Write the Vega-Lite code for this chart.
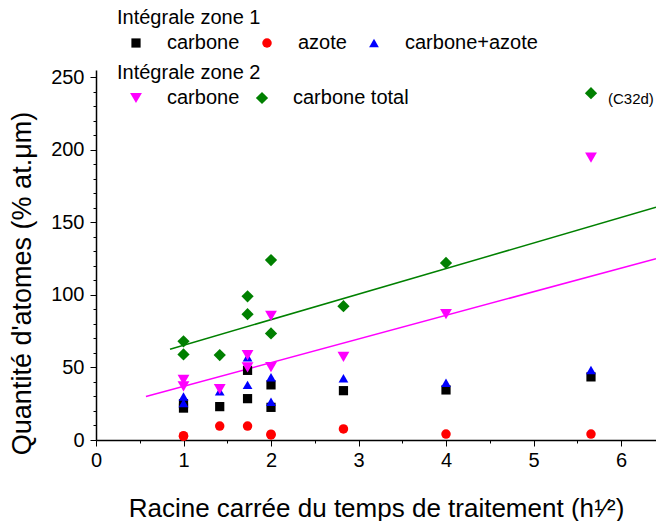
{
  "$schema": "https://vega.github.io/schema/vega-lite/v6.json",
  "width": 560,
  "height": 370,
  "autosize": {"type": "none"},
  "padding": {"left": 96, "top": 70, "right": 0, "bottom": 81},
  "background": "white",
  "config": {
    "view": {"stroke": null},
    "font": "Arial, Liberation Sans, Helvetica, sans-serif",
    "axis": {"labelFont": "Arial, Liberation Sans, Helvetica, sans-serif", "titleFont": "Arial, Liberation Sans, Helvetica, sans-serif", "domainColor": "black", "tickColor": "black", "labelColor": "black", "titleColor": "black", "grid": false, "titleFontWeight": "normal"},
    "legend": {"labelFont": "Arial, Liberation Sans, Helvetica, sans-serif", "titleFont": "Arial, Liberation Sans, Helvetica, sans-serif", "labelColor": "black", "titleColor": "black", "titleFontWeight": "normal"}
  },
  "datasets": {
    "pts": [
      {"x": 1, "y": 22, "zone": "1", "serie": "carbone"},
      {"x": 1, "y": 25, "zone": "1", "serie": "carbone"},
      {"x": 1.414, "y": 23, "zone": "1", "serie": "carbone"},
      {"x": 1.732, "y": 48, "zone": "1", "serie": "carbone"},
      {"x": 1.732, "y": 28.5, "zone": "1", "serie": "carbone"},
      {"x": 2, "y": 38, "zone": "1", "serie": "carbone"},
      {"x": 2, "y": 22.5, "zone": "1", "serie": "carbone"},
      {"x": 2.828, "y": 34, "zone": "1", "serie": "carbone"},
      {"x": 4, "y": 34.5, "zone": "1", "serie": "carbone"},
      {"x": 5.657, "y": 43.5, "zone": "1", "serie": "carbone"},
      {"x": 1, "y": 3, "zone": "1", "serie": "azote"},
      {"x": 1, "y": 2.5, "zone": "1", "serie": "azote"},
      {"x": 1.414, "y": 9.6, "zone": "1", "serie": "azote"},
      {"x": 1.732, "y": 9.6, "zone": "1", "serie": "azote"},
      {"x": 2, "y": 4, "zone": "1", "serie": "azote"},
      {"x": 2, "y": 3.5, "zone": "1", "serie": "azote"},
      {"x": 2.828, "y": 7.6, "zone": "1", "serie": "azote"},
      {"x": 4, "y": 4.1, "zone": "1", "serie": "azote"},
      {"x": 5.657, "y": 4.1, "zone": "1", "serie": "azote"},
      {"x": 1, "y": 30, "zone": "1", "serie": "carbone+azote"},
      {"x": 1, "y": 25.5, "zone": "1", "serie": "carbone+azote"},
      {"x": 1.414, "y": 33.5, "zone": "1", "serie": "carbone+azote"},
      {"x": 1.732, "y": 57, "zone": "1", "serie": "carbone+azote"},
      {"x": 1.732, "y": 38, "zone": "1", "serie": "carbone+azote"},
      {"x": 2, "y": 43.3, "zone": "1", "serie": "carbone+azote"},
      {"x": 2, "y": 26.3, "zone": "1", "serie": "carbone+azote"},
      {"x": 2.828, "y": 42.5, "zone": "1", "serie": "carbone+azote"},
      {"x": 4, "y": 39.5, "zone": "1", "serie": "carbone+azote"},
      {"x": 5.657, "y": 48.3, "zone": "1", "serie": "carbone+azote"},
      {"x": 1, "y": 41.5, "zone": "2", "serie": "carbone"},
      {"x": 1, "y": 37, "zone": "2", "serie": "carbone"},
      {"x": 1.414, "y": 35, "zone": "2", "serie": "carbone"},
      {"x": 1.732, "y": 58.5, "zone": "2", "serie": "carbone"},
      {"x": 1.732, "y": 50, "zone": "2", "serie": "carbone"},
      {"x": 2, "y": 85.5, "zone": "2", "serie": "carbone"},
      {"x": 2, "y": 50.3, "zone": "2", "serie": "carbone"},
      {"x": 2.828, "y": 57.3, "zone": "2", "serie": "carbone"},
      {"x": 4, "y": 86.7, "zone": "2", "serie": "carbone"},
      {"x": 5.657, "y": 194.6, "zone": "2", "serie": "carbone"},
      {"x": 1, "y": 68, "zone": "2", "serie": "carbone total"},
      {"x": 1, "y": 59, "zone": "2", "serie": "carbone total"},
      {"x": 1.414, "y": 58.5, "zone": "2", "serie": "carbone total"},
      {"x": 1.732, "y": 99, "zone": "2", "serie": "carbone total"},
      {"x": 1.732, "y": 86.7, "zone": "2", "serie": "carbone total"},
      {"x": 2, "y": 124, "zone": "2", "serie": "carbone total"},
      {"x": 2, "y": 73.4, "zone": "2", "serie": "carbone total"},
      {"x": 2.828, "y": 92.2, "zone": "2", "serie": "carbone total"},
      {"x": 4, "y": 122, "zone": "2", "serie": "carbone total"},
      {"x": 5.657, "y": 239, "zone": "2", "serie": "carbone total"}
    ],
    "fits": [
      {"x": 0.846, "y": 62.6, "fit": "total"},
      {"x": 6.4, "y": 160.4, "fit": "total"},
      {"x": 0.571, "y": 30.0, "fit": "carbone"},
      {"x": 6.4, "y": 125.0, "fit": "carbone"}
    ],
    "notes": [
      {"x": 5.657, "y": 239, "label": "(C32d)"}
    ]
  },
  "encoding": {
    "x": {"field": "x", "type": "quantitative", "scale": {"domain": [0, 6.4], "nice": false, "zero": false},
          "axis": {"orient": "bottom", "values": [0, 0.5, 1, 1.5, 2, 2.5, 3, 3.5, 4, 4.5, 5, 5.5, 6],
                   "labelExpr": "datum.value % 1 === 0 ? '' + datum.value : ''",
                   "tickSize": {"condition": {"test": "datum.value % 1 === 0", "value": 6}, "value": 3},
                   "tickWidth": 1, "domainWidth": 1.5, "labelFontSize": 20, "labelPadding": 4, "labelAngle": 0, "labelFlush": false, "labelOverlap": false,
                   "title": "Racine carrée du temps de traitement (h¹⁄²)", "titleFontSize": 26, "titlePadding": 25}},
    "y": {"field": "y", "type": "quantitative", "scale": {"domain": [0, 255], "nice": false, "zero": false},
          "axis": {"orient": "left", "values": [0, 10, 20, 30, 40, 50, 60, 70, 80, 90, 100, 110, 120, 130, 140, 150, 160, 170, 180, 190, 200, 210, 220, 230, 240, 250],
                   "labelExpr": "datum.value % 50 === 0 ? '' + datum.value : ''",
                   "tickSize": {"condition": {"test": "datum.value % 50 === 0", "value": 6}, "value": 3},
                   "tickWidth": 1, "domainWidth": 1.5, "labelFontSize": 20, "labelPadding": 6, "labelFlush": false, "labelOverlap": false,
                   "title": "Quantité d'atomes (% at.μm)", "titleFontSize": 27, "titlePadding": 14, "titleY": 213}}
  },
  "layer": [
    {
      "data": {"name": "fits"},
      "mark": {"type": "line", "strokeWidth": 1.5},
      "encoding": {
        "color": {"field": "fit", "type": "nominal", "scale": {"domain": ["total", "carbone"], "range": ["#008000", "#ff00ff"]}, "legend": null}
      }
    },
    {
      "data": {"name": "pts"},
      "transform": [{"filter": "datum.zone === '1'"}],
      "mark": {"type": "point", "filled": true, "opacity": 1},
      "encoding": {
        "size": {"field": "serie", "type": "nominal", "scale": {"domain": ["carbone", "azote", "carbone+azote"], "range": [85, 95, 130]}, "legend": null},
        "color": {"field": "serie", "type": "nominal",
                  "scale": {"domain": ["carbone", "azote", "carbone+azote"], "range": ["#000000", "#ff0000", "#0000ff"]},
                  "legend": {"title": "Intégrale zone 1", "orient": "none", "legendX": 21, "legendY": -62, "direction": "horizontal",
                             "titleFontSize": 20, "labelFontSize": 20, "symbolSize": 50, "symbolOffset": 9, "labelOffset": 21, "columnPadding": 8, "titlePadding": 5, "symbolStrokeWidth": 0}},
        "shape": {"field": "serie", "type": "nominal",
                  "scale": {"domain": ["carbone", "azote", "carbone+azote"], "range": ["square", "circle", "triangle-up"]},
                  "legend": {"title": "Intégrale zone 1", "orient": "none", "legendX": 21, "legendY": -62, "direction": "horizontal",
                             "titleFontSize": 20, "labelFontSize": 20, "symbolSize": 50, "symbolOffset": 9, "labelOffset": 21, "columnPadding": 8, "titlePadding": 5, "symbolStrokeWidth": 0}}
      }
    },
    {
      "data": {"name": "pts"},
      "transform": [{"filter": "datum.zone === '2'"}],
      "mark": {"type": "point", "filled": true, "opacity": 1},
      "encoding": {
        "size": {"field": "serie", "type": "nominal", "scale": {"domain": ["carbone", "carbone total"], "range": [140, 150]}, "legend": null},
        "color": {"field": "serie", "type": "nominal",
                  "scale": {"domain": ["carbone", "carbone total"], "range": ["#ff00ff", "#008000"]},
                  "legend": {"title": "Intégrale zone 2", "orient": "none", "legendX": 21, "legendY": -7, "direction": "horizontal",
                             "titleFontSize": 20, "labelFontSize": 20, "symbolSize": 50, "symbolOffset": 9, "labelOffset": 21, "columnPadding": 3, "titlePadding": 5, "symbolStrokeWidth": 0}},
        "shape": {"field": "serie", "type": "nominal",
                  "scale": {"domain": ["carbone", "carbone total"], "range": ["triangle-down", "diamond"]},
                  "legend": {"title": "Intégrale zone 2", "orient": "none", "legendX": 21, "legendY": -7, "direction": "horizontal",
                             "titleFontSize": 20, "labelFontSize": 20, "symbolSize": 50, "symbolOffset": 9, "labelOffset": 21, "columnPadding": 3, "titlePadding": 5, "symbolStrokeWidth": 0}}
      }
    },
    {
      "data": {"name": "notes"},
      "mark": {"type": "text", "align": "left", "baseline": "middle", "dx": 17, "dy": 6, "fontSize": 15, "color": "black"},
      "encoding": {
        "text": {"field": "label"}
      }
    }
  ],
  "resolve": {
    "scale": {"color": "independent", "shape": "independent", "size": "independent"},
    "legend": {"color": "independent", "shape": "independent", "size": "independent"}
  }
}
